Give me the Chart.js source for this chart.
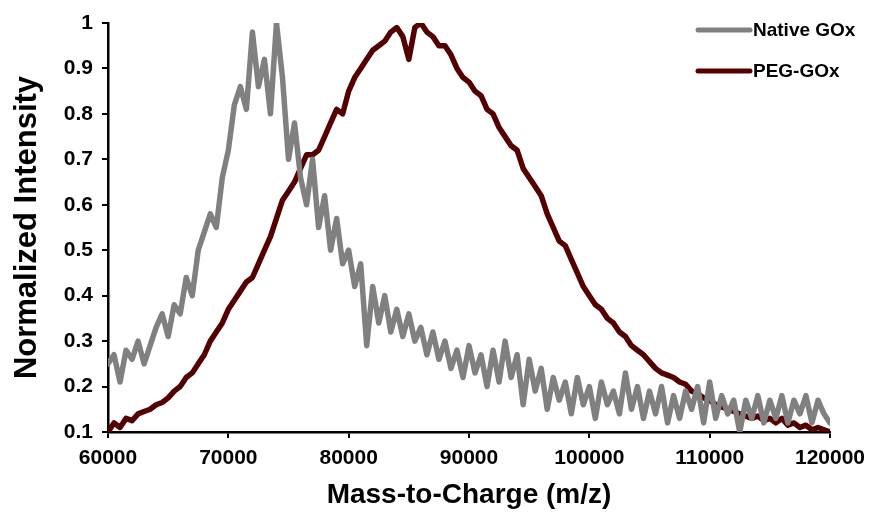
<!DOCTYPE html>
<html>
<head>
<meta charset="utf-8">
<script src="https://cdn.jsdelivr.net/npm/chart.js@4/dist/chart.umd.min.js"></script>
<style>
  html, body { margin: 0; padding: 0; background: #fff; }
  #wrap { width: 879px; height: 515px; position: relative; }
</style>
</head>
<body>
<div id="wrap"><canvas id="massSpec"></canvas></div>
<script>
// m/z sample positions
const massValues = [
  60000, 60500, 61000, 61500, 62000, 62500, 63000, 63500, 64000, 64500,
  65000, 65500, 66000, 66500, 67000, 67500, 68000, 68500, 69000, 69500,
  70000, 70500, 71000, 71500, 72000, 72500, 73000, 73500, 74000, 74500,
  75000, 75500, 76000, 76500, 77000, 77500, 78000, 78500, 79000, 79500,
  80000, 80500, 81000, 81500, 82000, 82500, 83000, 83500, 84000, 84500,
  85000, 85500, 86000, 86500, 87000, 87500, 88000, 88500, 89000, 89500,
  90000, 90500, 91000, 91500, 92000, 92500, 93000, 93500, 94000, 94500,
  95000, 95500, 96000, 96500, 97000, 97500, 98000, 98500, 99000, 99500,
  100000, 100500, 101000, 101500, 102000, 102500, 103000, 103500, 104000, 104500,
  105000, 105500, 106000, 106500, 107000, 107500, 108000, 108500, 109000, 109500,
  110000, 110500, 111000, 111500, 112000, 112500, 113000, 113500, 114000, 114500,
  115000, 115500, 116000, 116500, 117000, 117500, 118000, 118500, 119000, 119500,
  120000
];

const nativeGOx = [
  0.25, 0.27, 0.21, 0.28, 0.26, 0.30, 0.25, 0.29, 0.33, 0.36,
  0.31, 0.38, 0.36, 0.44, 0.40, 0.50, 0.54, 0.58, 0.55, 0.66,
  0.72, 0.82, 0.86, 0.81, 0.98, 0.86, 0.92, 0.80, 1.00, 0.88,
  0.70, 0.78, 0.66, 0.60, 0.70, 0.55, 0.62, 0.50, 0.57, 0.47,
  0.50, 0.42, 0.47, 0.29, 0.42, 0.34, 0.40, 0.32, 0.37, 0.31,
  0.36, 0.30, 0.33, 0.27, 0.32, 0.26, 0.30, 0.24, 0.28, 0.22,
  0.29, 0.23, 0.27, 0.20, 0.28, 0.21, 0.30, 0.22, 0.27, 0.16,
  0.26, 0.19, 0.24, 0.15, 0.22, 0.17, 0.21, 0.14, 0.22, 0.16,
  0.20, 0.13, 0.21, 0.16, 0.19, 0.14, 0.23, 0.15, 0.20, 0.13,
  0.19, 0.14, 0.20, 0.12, 0.18, 0.13, 0.19, 0.15, 0.20, 0.12,
  0.21, 0.13, 0.18, 0.14, 0.17, 0.10, 0.17, 0.13, 0.18, 0.12,
  0.17, 0.13, 0.18, 0.12, 0.17, 0.14, 0.18, 0.12, 0.17, 0.14,
  0.12
];

const pegGOx = [
  0.10, 0.12, 0.11, 0.13, 0.125, 0.14, 0.145, 0.15, 0.16, 0.165,
  0.175, 0.19, 0.20, 0.22, 0.23, 0.25, 0.27, 0.30, 0.32, 0.34,
  0.37, 0.39, 0.41, 0.43, 0.44, 0.47, 0.50, 0.53, 0.57, 0.61,
  0.63, 0.65, 0.68, 0.71, 0.71, 0.72, 0.75, 0.78, 0.81, 0.80,
  0.85, 0.88, 0.90, 0.92, 0.94, 0.95, 0.96, 0.98, 0.99, 0.97,
  0.92, 0.99, 1.00, 0.98, 0.97, 0.95, 0.95, 0.93, 0.90, 0.88,
  0.87, 0.85, 0.84, 0.81, 0.80, 0.77, 0.75, 0.73, 0.72, 0.68,
  0.66, 0.64, 0.62, 0.58, 0.55, 0.52, 0.51, 0.48, 0.45, 0.42,
  0.40, 0.38, 0.37, 0.35, 0.34, 0.32, 0.31, 0.29, 0.28, 0.27,
  0.255, 0.24, 0.23, 0.225, 0.22, 0.21, 0.205, 0.19, 0.185, 0.175,
  0.17, 0.16, 0.155, 0.15, 0.145, 0.14, 0.135, 0.13, 0.135, 0.125,
  0.13, 0.12, 0.13, 0.115, 0.12, 0.11, 0.115, 0.105, 0.11, 0.105,
  0.10
];

const seriesNames = ['Native GOx', 'PEG-GOx'];
const seriesColors = ['#808080', '#550000'];

const FONT = '"Liberation Sans", Arial, sans-serif';

// legend drawn inside the top-right corner, like the original figure
const cornerLegend = {
  id: 'cornerLegend',
  afterDraw(chart) {
    const ctx = chart.ctx;
    ctx.save();
    chart.data.datasets.forEach((ds, i) => {
      const y = 30 + i * 41;
      ctx.strokeStyle = ds.borderColor;
      ctx.lineWidth = 5;
      ctx.lineCap = 'round';
      ctx.beginPath();
      ctx.moveTo(698, y);
      ctx.lineTo(750, y);
      ctx.stroke();
      ctx.fillStyle = '#000';
      ctx.font = 'bold 19px ' + FONT;
      ctx.textBaseline = 'middle';
      ctx.textAlign = 'left';
      ctx.fillText(ds.label, 753, y + 1);
    });
    ctx.restore();
  }
};

const toPoints = (values) => values.map((v, i) => ({ x: massValues[i], y: v }));

new Chart(document.getElementById('massSpec').getContext('2d'), {
  type: 'line',
  data: {
    datasets: [
      {
        label: seriesNames[0],
        data: toPoints(nativeGOx),
        borderColor: seriesColors[0],
        borderWidth: 5.5,
        pointRadius: 0,
        tension: 0,
        borderJoinStyle: 'round',
        borderCapStyle: 'round'
      },
      {
        label: seriesNames[1],
        data: toPoints(pegGOx),
        borderColor: seriesColors[1],
        borderWidth: 5.5,
        pointRadius: 0,
        tension: 0,
        borderJoinStyle: 'round',
        borderCapStyle: 'round'
      }
    ]
  },
  options: {
    responsive: true,
    maintainAspectRatio: false,
    animation: false,
    layout: {
      padding: { left: 0, top: 23, right: 49, bottom: 0 }
    },
    scales: {
      x: {
        type: 'linear',
        min: 60000,
        max: 120000,
        afterFit: (scale) => { scale.height = 83; },
        ticks: {
          stepSize: 10000,
          color: '#000',
          padding: 8,
          font: { family: FONT, size: 21, weight: 'bold' },
          maxRotation: 0,
          callback: (value) => String(value)
        },
        grid: {
          drawOnChartArea: false,
          drawTicks: true,
          tickLength: 6,
          color: '#000',
          lineWidth: 2
        },
        border: { color: '#000', width: 2.5 },
        title: {
          display: true,
          text: 'Mass-to-Charge (m/z)',
          color: '#000',
          font: { family: FONT, size: 28, weight: 'bold' },
          padding: { top: 3, bottom: 3 }
        }
      },
      y: {
        min: 0.1,
        max: 1,
        afterFit: (scale) => { scale.width = 108; },
        ticks: {
          stepSize: 0.1,
          color: '#000',
          padding: 9,
          font: { family: FONT, size: 21, weight: 'bold' },
          callback: (value) => String(parseFloat(value.toFixed(1)))
        },
        grid: {
          drawOnChartArea: false,
          drawTicks: true,
          tickLength: 6,
          color: '#000',
          lineWidth: 2
        },
        border: { color: '#000', width: 2.5 },
        title: {
          display: true,
          text: 'Normalized Intensity',
          color: '#000',
          font: { family: FONT, size: 31, weight: 'bold' },
          padding: { top: 9, bottom: 9 }
        }
      }
    },
    plugins: {
      legend: { display: false },
      tooltip: { enabled: false }
    }
  },
  plugins: [cornerLegend]
});
</script>
</body>
</html>
